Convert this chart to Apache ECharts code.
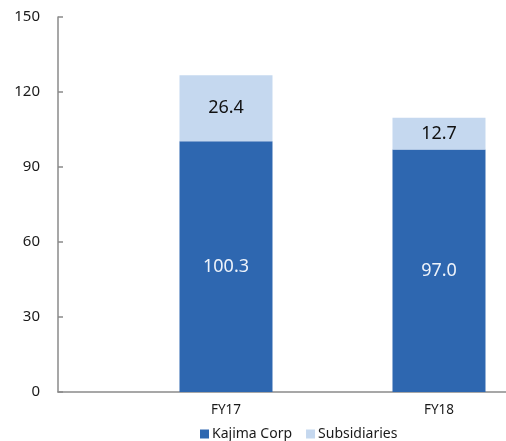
<!DOCTYPE html>
<html>
<head>
<meta charset="utf-8">
<script src="https://cdn.jsdelivr.net/npm/echarts@6/dist/echarts.min.js"></script>
<style>
  html, body { margin: 0; padding: 0; background: #fff; }
  #chart { width: 506px; height: 441px; }
</style>
</head>
<body>
<div id="chart"></div>
<script>
// Fiscal years and the two stacked components
const categories = ['FY17', 'FY18'];
const kajimaCorp = [100.3, 97.0];
const subsidiaries = [26.4, 12.7];
const yTicks = [0, 30, 60, 90, 120, 150];

const FONT = '"Noto Sans", "Liberation Sans", sans-serif';

// Each fiscal year sits at position 1, 2, ... along a numeric x axis.
// Rows are [value, position] so the value column is the one that stacks.
const positions = categories.map((c, i) => i + 1);
const toRows = arr => arr.map((v, i) => [v, positions[i]]);

const chart = echarts.init(document.getElementById('chart'), null, { renderer: 'canvas' });

const valueLabel = color => ({
  show: true,
  position: 'inside',
  formatter: p => p.value[0].toFixed(1),
  fontFamily: FONT,
  fontSize: 18,
  color: color
});

chart.setOption({
  animation: false,
  backgroundColor: '#ffffff',
  textStyle: { fontFamily: FONT },
  grid: { left: 58, right: 0, top: 17, bottom: 49, containLabel: false },
  legend: {
    top: 422,
    left: 195,
    itemWidth: 9,
    itemHeight: 9,
    itemGap: 14,
    icon: 'rect',
    textStyle: { fontFamily: FONT, fontSize: 14, color: '#1a1a1a', padding: [0, 0, 0, -2] },
    data: ['Kajima Corp', 'Subsidiaries']
  },
  xAxis: {
    type: 'value',
    min: 0.2113,
    max: 2.3146,
    splitLine: { show: false },
    axisLine: { show: true, lineStyle: { color: '#8a8a8a', width: 1.5 } },
    axisTick: { show: false },
    axisLabel: {
      customValues: positions,
      formatter: v => categories[Math.round(v) - 1] || '',
      fontFamily: FONT,
      fontSize: 13.5,
      color: '#1a1a1a',
      margin: 11
    }
  },
  yAxis: {
    type: 'value',
    min: yTicks[0],
    max: yTicks[yTicks.length - 1],
    interval: 30,
    splitLine: { show: false },
    axisLine: { show: true, lineStyle: { color: '#8a8a8a', width: 1.5 } },
    axisTick: { show: true, inside: true, length: 5, lineStyle: { color: '#8a8a8a', width: 1.5 } },
    axisLabel: {
      fontFamily: FONT,
      fontSize: 15,
      color: '#1a1a1a',
      margin: 18
    }
  },
  series: [
    {
      name: 'Kajima Corp',
      type: 'bar',
      stack: 'total',
      barWidth: 93,
      encode: { x: 1, y: 0 },
      data: toRows(kajimaCorp),
      itemStyle: { color: '#2E67B0' },
      label: valueLabel('#eef3fa')
    },
    {
      name: 'Subsidiaries',
      type: 'bar',
      stack: 'total',
      barWidth: 93,
      encode: { x: 1, y: 0 },
      data: toRows(subsidiaries),
      itemStyle: { color: '#C5D8EF' },
      label: valueLabel('#111111')
    }
  ]
});
</script>
</body>
</html>
